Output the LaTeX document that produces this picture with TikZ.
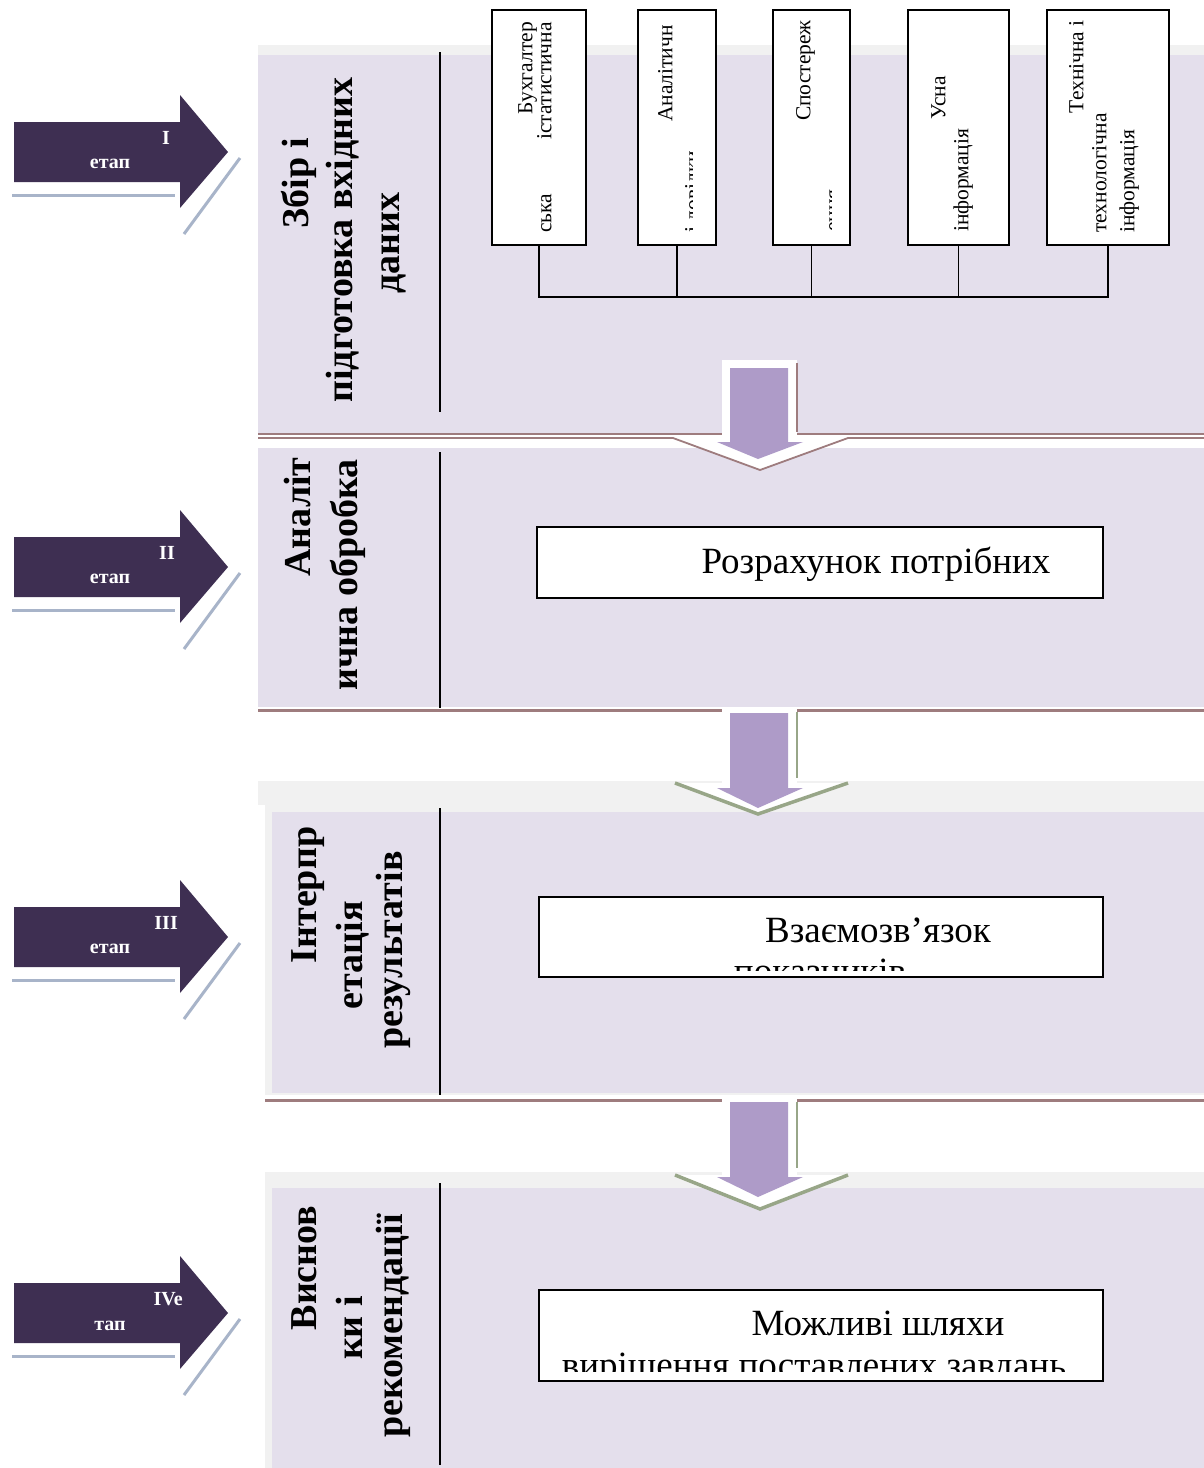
\documentclass[tikz,border=0pt]{standalone}
\usepackage{fontspec}
\setmainfont{Liberation Serif}
\definecolor{lav}{HTML}{E4DFEC}
\definecolor{lgray}{HTML}{F1F1F1}
\definecolor{stg}{HTML}{3E2F52}
\definecolor{stgsh}{HTML}{A8B4C9}
\definecolor{brn}{HTML}{9E7C7E}
\definecolor{grn}{HTML}{98A688}
\definecolor{parr}{HTML}{AE9BC8}
\tikzset{
  stagearrow/.pic={
    \draw[stgsh, line width=3pt] (12,43) -- (175,43);
    \draw[stgsh, line width=3pt] (184,82) -- (240,6);
    \fill[stg] (14,-30) -- (180,-30) -- (180,-57) -- (228,0) -- (180,56) -- (180,30) -- (14,30) -- cycle;
  }
}
\begin{document}
\begin{tikzpicture}[x=1pt,y=-1pt,
  srcbox/.style={draw=black, line width=1.6pt, fill=white, inner sep=0pt, rectangle},
  mainbox/.style={draw=black, line width=1.6pt, fill=white, inner sep=0pt, rectangle},
  vtxt/.style={rotate=90, inner sep=0pt, font=\fontsize{21.5}{20}\selectfont},
  ttl/.style={rotate=90, inner sep=0pt, anchor=mid, font=\fontsize{38}{46}\selectfont\bfseries},
  mtxt/.style={inner sep=0pt, anchor=base, font=\fontsize{37}{42}\selectfont},
  stxt/.style={inner sep=0pt, text=white, font=\fontsize{20}{22}\selectfont\bfseries},
  conn/.style={draw=black, line width=1.4pt},
  divider/.style={line width=1.5pt},
  parrow/.style={fill=parr},
]
\useasboundingbox (0,0) rectangle (1204,1468);
\fill[white] (0,0) rectangle (1204,1468);

% ---------- panels ----------
\fill[lgray] (258,45) rectangle (1204,55);
\fill[lav] (258,55) rectangle (1204,433);
\fill[white] (258,433) rectangle (1204,448);
\fill[lav] (258,448) rectangle (1204,707);
\fill[white] (258,707) rectangle (1204,781);
\fill[lgray] (258,781) rectangle (1204,805);
\fill[lgray] (265,805) rectangle (1204,1095);
\fill[lav] (272,812) rectangle (1204,1093);
\fill[lgray] (265,1172) rectangle (1204,1468);
\fill[lav] (272,1188) rectangle (1204,1468);

% ---------- separator 1 ----------
\fill[white] (673,437) -- (760,470) -- (848,437) -- cycle;
\draw[brn, line width=1.2pt] (258,434) -- (722,434) (797,434) -- (1204,434);
\draw[brn, line width=1.8pt] (258,438) -- (673,438) -- (760,470) -- (848,438) -- (1204,438);
\fill[white] (722,360) rectangle (797,445);
\draw[brn, line width=1.2pt] (797,363) -- (797,432);
\fill[parrow] (730,368) -- (788,368) -- (788,442) -- (803,442) -- (758,459) -- (717,442) -- (730,442) -- cycle;

% ---------- separator 2 ----------
\draw[brn, line width=3pt] (258,710) -- (722,710) (797,710) -- (1204,710);
\fill[white] (722,712) rectangle (797,790);
\fill[white] (675,783) -- (758,815) -- (848,783) -- cycle;
\draw[grn, line width=1.5pt] (797,712) -- (797,778);
\draw[grn, line width=3.5pt] (675,783) -- (758,814) -- (848,783);
\fill[parrow] (730,713) -- (788,713) -- (788,788) -- (803,788) -- (758,808) -- (717,788) -- (730,788) -- cycle;

% ---------- separator 3 ----------
\fill[white] (265,1095) rectangle (1204,1172);
\draw[brn, line width=3pt] (265,1100) -- (722,1100) (797,1100) -- (1204,1100);
\fill[white] (722,1102) rectangle (797,1180);
\fill[white] (675,1175) -- (760,1210) -- (848,1175) -- cycle;
\draw[grn, line width=1.5pt] (797,1102) -- (797,1168);
\draw[grn, line width=3.5pt] (675,1175) -- (760,1209) -- (848,1175);
\fill[parrow] (730,1102) -- (788,1102) -- (788,1177) -- (803,1177) -- (758,1197) -- (717,1177) -- (730,1177) -- cycle;

% ---------- dividers ----------
\draw[divider] (440,52) -- (440,412);
\draw[divider] (440,452) -- (440,708);
\draw[divider] (440,808) -- (440,1095);
\draw[divider] (440,1183) -- (440,1465);

% ---------- stage arrows ----------
\pic at (0,152) {stagearrow};
\pic at (0,567) {stagearrow};
\pic at (0,937) {stagearrow};
\pic at (0,1313) {stagearrow};
\node[stxt, anchor=base east] (s1n) at (170,144) {I};
\node[stxt, anchor=base] (s1t) at (110,168) {етап};
\node[stxt, anchor=base east] (s2n) at (175,559) {II};
\node[stxt, anchor=base] (s2t) at (110,583) {етап};
\node[stxt, anchor=base east] (s3n) at (178,929) {III};
\node[stxt, anchor=base] (s3t) at (110,953) {етап};
\node[stxt, anchor=base east] (s4n) at (183,1305) {IVe};
\node[stxt, anchor=base] (s4t) at (110,1330) {тап};

% ---------- panel titles ----------
\node[ttl] (t1a) at (306,183) {Збір і};
\node[ttl] (t1b) at (350,240) {підготовка вхідних};
\node[ttl] (t1c) at (397,243) {даних};
\node[ttl] (t2a) at (308,517) {Аналіт};
\node[ttl] (t2b) at (355,575) {ична обробка};
\node[ttl] (t3a) at (314,895) {Інтерпр};
\node[ttl] (t3b) at (360,955) {етація};
\node[ttl] (t3c) at (400,950) {результатів};
\node[ttl] (t4a) at (314,1268) {Виснов};
\node[ttl] (t4b) at (360,1328) {ки і};
\node[ttl] (t4c) at (400,1326) {рекомендації};

% ---------- source boxes ----------
\node[srcbox, minimum width=94pt, minimum height=235pt] (b1) at (539,127.5) {};
\node[srcbox, minimum width=78pt, minimum height=235pt] (b2) at (677,127.5) {};
\node[srcbox, minimum width=77pt, minimum height=235pt] (b3) at (811.5,127.5) {};
\node[srcbox, minimum width=101pt, minimum height=235pt] (b4) at (958.5,127.5) {};
\node[srcbox, minimum width=122pt, minimum height=235pt] (b5) at (1108,127.5) {};

\node[vtxt, anchor=mid east] (b1a) at (530,22) {Бухгалтер};
\node[vtxt, anchor=mid east] (b1b) at (549,22) {істатистична};
\node[vtxt, anchor=mid west] (b1c) at (549,233) {ська};
\node[vtxt, anchor=mid east] (b2a) at (670,25) {Аналітичн};
\begin{scope}
  \clip (640,150) rectangle (692,240);
  \node[vtxt, anchor=mid west] (b2b) at (697,233) {і довідки};
\end{scope}
\node[vtxt, anchor=mid east] (b3a) at (808,20) {Спостереж};
\begin{scope}
  \clip (775,150) rectangle (831.5,240);
  \node[vtxt, anchor=mid west] (b3b) at (837,232) {ення};
\end{scope}
\node[vtxt, anchor=mid east] (b4a) at (943,76) {Усна};
\node[vtxt, anchor=mid west] (b4b) at (966,232) {інформація};
\node[vtxt, anchor=mid east] (b5a) at (1081,20) {Технічна і};
\node[vtxt, anchor=mid west] (b5b) at (1104,233) {технологічна};
\node[vtxt, anchor=mid west] (b5c) at (1132,233) {інформація};

\coordinate (bus) at (0,297);
\draw[conn] (b1.south) -- (b1.south |- bus) -- (b5.south |- bus) -- (b5.south);
\foreach \b in {b2,b3,b4} \draw[conn] (\b.south) -- (\b.south |- bus);

% ---------- main boxes ----------
\node[mainbox, minimum width=566pt, minimum height=71pt] (rb) at (820,562.5) {};
\node[mtxt] (rt) at (876,573) {Розрахунок потрібних};

\node[mainbox, minimum width=564pt, minimum height=80pt] (vb) at (821,937) {};
\node[mtxt] (vt) at (878,942) {Взаємозв’язок};
\begin{scope}
  \clip (541,899) rectangle (1101,970);
  \node[mtxt] (vt2) at (820,983) {показників};
\end{scope}

\node[mainbox, minimum width=564pt, minimum height=91pt] (mb) at (821,1335.5) {};
\node[mtxt] (mt) at (878,1335) {Можливі шляхи};
\begin{scope}
  \clip (541,1292) rectangle (1101,1371);
  \node[mtxt] (mt2) at (814,1377) {вирішення поставлених завдань};
\end{scope}
\end{tikzpicture}
\end{document}
